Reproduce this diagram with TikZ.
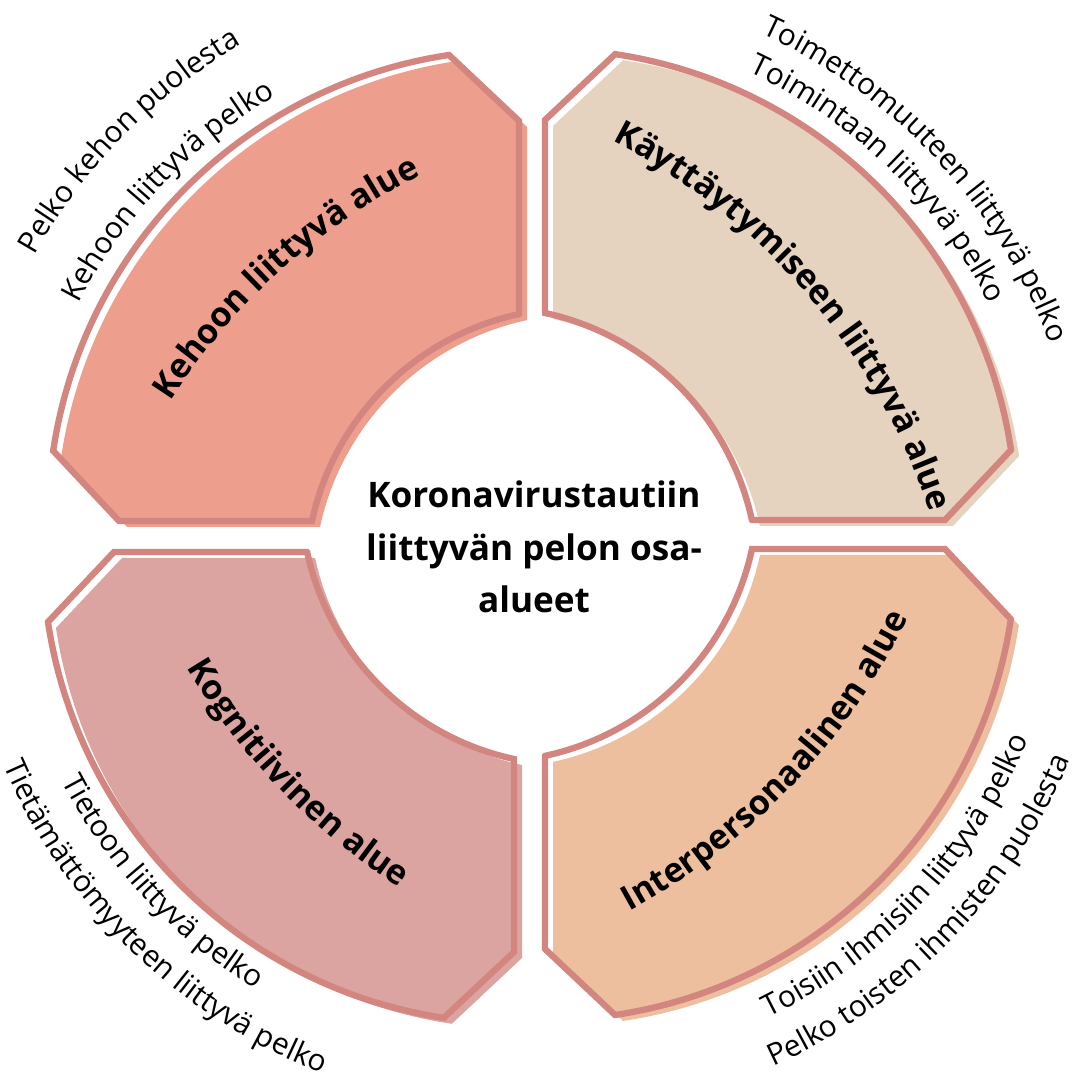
\documentclass[tikz,border=0pt]{standalone}
\usepackage{fontspec}
\setmainfont{Open Sans}
\usetikzlibrary{decorations.text}

\definecolor{rimcol}{HTML}{D3867F}
\definecolor{kehocol}{HTML}{EE9E8D}
\definecolor{kaytcol}{HTML}{E6D3BF}
\definecolor{kogncol}{HTML}{DCA4A0}
\definecolor{intercol}{HTML}{EEBF9E}

\newcommand*{\titlefont}{\bfseries\fontsize{9.7pt}{12pt}\selectfont}
\newcommand*{\centrefont}{\bfseries\fontsize{10pt}{12pt}\selectfont}
\newcommand*{\lblfont}{\fontsize{8.5pt}{10pt}\selectfont}
\newcommand*{\quarterpath}{(207,0) -- (400,0) -- (466,70)
  arc[start angle=8.54, end angle=81.46, radius=471] -- (0,400) -- (0,207)
  arc[start angle=77.8, end angle=12.2, radius=270] -- cycle}

\begin{document}
\begin{tikzpicture}
[
	x=0.01cm,
	y=0.01cm,
	rim/.style={draw=rimcol,line width=1.8pt},
	titletext/.style={decorate,decoration={text along path,text align=center,text={|\titlefont|#1}}},
	lbltext/.style={decorate,decoration={text along path,text align=center,text={|\lblfont|#1}}}
]
	\useasboundingbox (-532,-540) rectangle (540,537);

	% quarter rings: fill slightly offset from the rim
	\foreach \col/\ang/\cx/\cy in {kaytcol/0/13/17, kehocol/90/-13/16, kogncol/180/-18/-15, intercol/270/13/-12}
	{
		\fill[\col,shift={(\cx+8,\cy-6)},rotate=\ang] \quarterpath;
		\draw[rim,shift={(\cx,\cy)},rotate=\ang] \quarterpath;
	}

	% centre
	\node[align=center,font=\centrefont,inner sep=0pt] (centre) at (2,-10)
	  {Koronavirustautiin\\[3pt]liittyvän pelon osa-\\[3pt]alueet};

	% titles
	\path[titletext={Kehoon liittyvä alue},shift={(174,-207)}]
	  (160:636) arc[start angle=160, end angle=104, radius=636];
	\path[titletext={Käyttäytymiseen liittyvä alue},shift={(-211,-174)}]
	  (74:640) arc[start angle=74, end angle=7, radius=640];
	\path[titletext={Kognitiivinen alue},shift={(229,211)}]
	  (196:668) arc[start angle=196, end angle=252, radius=668];
	\path[titletext={Interpersonaalinen alue},shift={(-219,205)}]
	  (-76:660) arc[start angle=-76, end angle=-11, radius=660];

	% outer labels
	\path[lbltext={Pelko kehon puolesta}] (171:572) arc[start angle=171, end angle=100, radius=572];
	\path[lbltext={Kehoon liittyvä pelko}] (172:510) arc[start angle=172, end angle=101, radius=510];
	\path[lbltext={Toimettomuuteen liittyvä pelko}] (80:553) arc[start angle=80, end angle=6, radius=553];
	\path[lbltext={Toimintaan liittyvä pelko}] (81:513) arc[start angle=81, end angle=11, radius=513];
	\path[lbltext={Tietoon liittyvä pelko}] (188:530) arc[start angle=188, end angle=258, radius=530];
	\path[lbltext={Tietämättömyyteen liittyvä pelko}] (190:576) arc[start angle=190, end angle=262, radius=576];
	\path[lbltext={Toisiin ihmisiin liittyvä pelko}] (-80:536) arc[start angle=-80, end angle=-6, radius=536];
	\path[lbltext={Pelko toisten ihmisten puolesta}] (-81:582) arc[start angle=-81, end angle=-7, radius=582];

\end{tikzpicture}
\end{document}
